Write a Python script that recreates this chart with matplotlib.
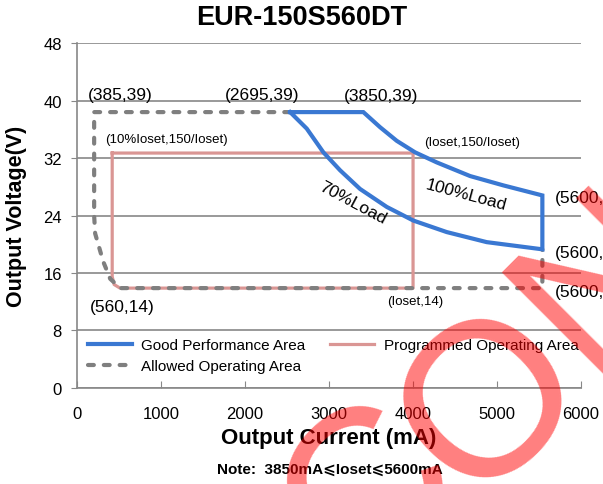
import numpy as np
import matplotlib
matplotlib.use("Agg")
import matplotlib.pyplot as plt

plt.rcParams['font.family'] = ['Liberation Sans', 'DejaVu Sans']

# data (current in mA, voltage in V)
good_i = [2536, 3408, 3607, 3806, 4024, 4282, 4679, 5075, 5540,
          5540, 4877, 4401, 4004, 3687, 3369, 3131, 2932, 2734, 2536]
good_v = [38.4, 38.4, 36.3, 34.4, 32.8, 31.4, 29.5, 28.2, 26.8,
          19.3, 20.3, 21.7, 23.3, 25.2, 27.7, 30.3, 32.8, 36.1, 38.4]

prog_i = [417, 4000, 4000, 510, 440, 417, 417]
prog_v = [32.7, 32.7, 13.9, 13.9, 14.4, 15.5, 32.7]

allowed_i = [2536, 202, 202, 214, 310, 393, 512, 5540, 5540]
allowed_v = [38.4, 38.4, 24.0, 21.5, 17.6, 15.2, 13.9, 13.9, 19.3]

labels_big = ['(385,39)', '(2695,39)', '(3850,39)', '(560,14)']
labels_big_i = [512, 2202, 3619, 536]
labels_big_v = [40.9, 40.9, 40.7, 11.4]

labels_small = ['(10%Ioset,150/Ioset)', '(Ioset,150/Ioset)', '(Ioset,14)']
labels_small_i = [1060, 4702, 4024]
labels_small_v = [34.7, 34.3, 12.1]

labels_edge = ['(5600,26.8)', '(5600,19.3)', '(5600,14)']
labels_edge_v = [26.5, 18.9, 13.4]

blue = '#3A78D2'
pink = '#DA9694'
grey = '#7F7F7F'

fig = plt.figure(figsize=(6.03, 4.85), dpi=100)
ax = fig.add_axes([0.128, 0.198, 0.8355, 0.711])

ax.plot(prog_i, prog_v, color=pink, lw=2.3, zorder=3, label='Programmed Operating Area',
        solid_joinstyle='round')
ax.plot(allowed_i, allowed_v, color=grey, lw=3, zorder=4, label='Allowed Operating Area',
        dashes=(1.4, 2.4), dash_capstyle='round')
ax.plot(good_i, good_v, color=blue, lw=3, zorder=5, label='Good Performance Area',
        solid_joinstyle='miter')

for t, x, y in zip(labels_big, labels_big_i, labels_big_v):
    ax.text(x, y, t, fontsize=12.5, ha='center', va='center')
for t, x, y in zip(labels_small, labels_small_i, labels_small_v):
    ax.text(x, y, t, fontsize=9.5, ha='center', va='center')
for t, y in zip(labels_edge, labels_edge_v):
    ax.text(5690, y, t, fontsize=12.5, ha='left', va='center', clip_on=False)

ax.text(4631, 26.9, '100%Load', fontsize=12.5, rotation=-15,
        ha='center', va='center', rotation_mode='anchor')
ax.text(3286, 25.9, '70%Load', fontsize=12.5, rotation=-28,
        ha='center', va='center', rotation_mode='anchor')

ax.set_xlim(0, 6000)
ax.set_ylim(0, 48)
ax.set_xticks(np.arange(0, 6001, 1000))
ax.set_yticks(np.arange(0, 49, 8))
ax.yaxis.grid(True, color='#888888', lw=1.2)
ax.set_axisbelow(True)
for s in ['top', 'right']:
    ax.spines[s].set_visible(False)
for s in ['left', 'bottom']:
    ax.spines[s].set_color('#888888')
    ax.spines[s].set_linewidth(1.2)
ax.tick_params(axis='x', direction='in', length=5, color='#888888', labelsize=12, pad=13)
ax.tick_params(axis='y', direction='out', length=4, color='#888888', labelsize=12, pad=7)

ax.set_xlabel('Output Current (mA)', fontsize=16, fontweight='bold', labelpad=4)
ax.set_ylabel('Output Voltage(V)', fontsize=15.5, fontweight='bold', labelpad=12)
fig.text(0.5, 0.963, 'EUR-150S560DT', fontsize=19.5, fontweight='bold', ha='center', va='center')
fig.text(0.547, 0.031, 'Note:  3850mA\u2a7dIoset\u2a7d5600mA', fontsize=11, fontweight='bold',
         ha='center', va='center')

h, l = ax.get_legend_handles_labels()
order = [2, 1, 0]
ax.legend([h[i] for i in order], [l[i] for i in order], ncol=2, loc='upper left',
          bbox_to_anchor=(0.0, 0.175), frameon=False, fontsize=11, handlelength=2.9,
          handletextpad=0.6, columnspacing=1.6, labelspacing=0.45, borderaxespad=0.3)

# watermark (first letter set a little tighter, as in the scan)
wm = dict(fontsize=158, color='red', alpha=0.5, rotation=45, rotation_mode='anchor',
          ha='left', va='baseline', zorder=20)
fig.text(0.5912, -0.2165, 'C', **wm)
fig.text(0.7852, -0.0396, 'ONFIDENTIAL', **wm)

fig.savefig('out.png', dpi=100)
